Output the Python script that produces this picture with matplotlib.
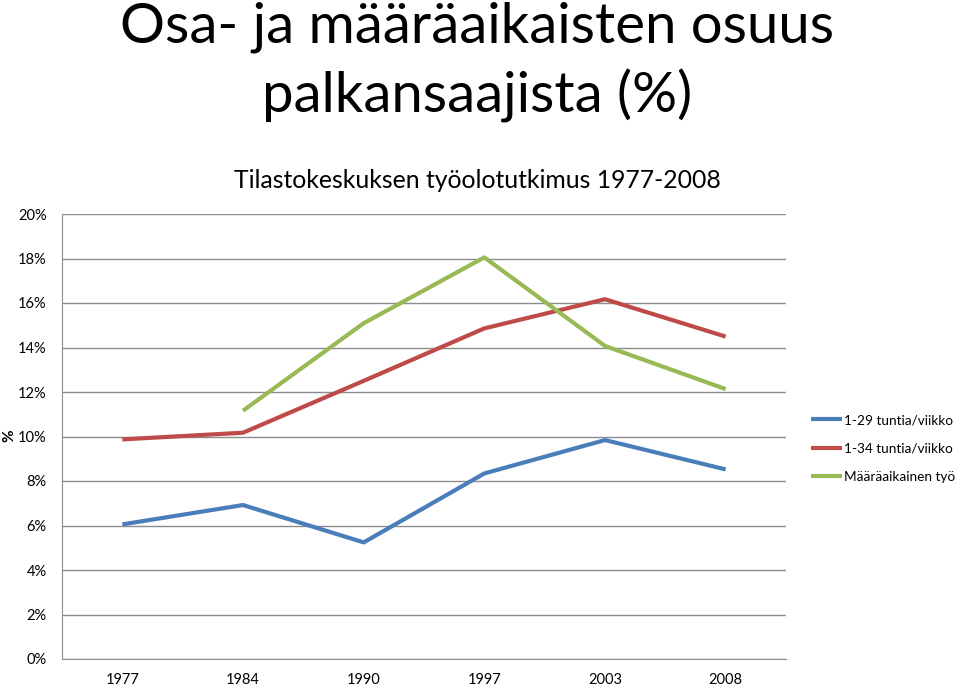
import matplotlib
matplotlib.use("Agg")
import matplotlib.pyplot as plt
import numpy as np

plt.rcParams['font.family'] = ['Lato', 'DejaVu Sans']

years = ["1977", "1984", "1990", "1997", "2003", "2008"]
osa_29 = [6.05, 6.92, 5.24, 8.34, 9.84, 8.52]
osa_34 = [9.87, 10.17, 12.5, 14.86, 16.17, 14.49]
maaraaik = [None, 11.16, 15.09, 18.05, 14.07, 12.13]
series_names = ["1-29 tuntia/viikko", "1-34 tuntia/viikko", "Määräaikainen työ"]
colors = ["#4a7ebb", "#be4b48", "#98b954"]
yticks = [0, 2, 4, 6, 8, 10, 12, 14, 16, 18, 20]

fig = plt.figure(figsize=(9.6, 6.85), dpi=100)
ax = fig.add_axes([62/960, 26/685, (786-62)/960, (659-214)/685])

x = np.arange(len(years))
for vals, name, c in zip([osa_29, osa_34, maaraaik], series_names, colors):
    v = np.array([np.nan if a is None else a for a in vals], dtype=float)
    ax.plot(x, v, color=c, lw=3, label=name, solid_capstyle='butt')

ax.set_xlim(-0.5, len(years) - 0.5)
ax.set_ylim(0, 20)
ax.set_yticks(yticks)
ax.set_yticklabels([f"{t}%" for t in yticks], fontsize=10.5)
ax.set_xticks(x)
ax.set_xticklabels(years, fontsize=10.5)
ax.tick_params(axis='y', length=0, pad=11)
ax.tick_params(axis='x', length=0, pad=10)
ax.grid(axis='y', color='#8c8c8c', lw=1)
ax.set_axisbelow(True)
for s in ['top', 'right']:
    ax.spines[s].set_visible(False)
for s in ['left', 'bottom']:
    ax.spines[s].set_color('#8c8c8c')

fig.text(9/960, 1 - 436/685, "%", rotation=90, ha='center', va='center', fontsize=11, fontweight='bold')

fig.text(0.497, 1 - 27/685, "Osa- ja määräaikaisten osuus", ha='center', va='center', fontsize=40.5)
fig.text(0.497, 1 - 96/685, "palkansaajista (%)", ha='center', va='center', fontsize=40.5)
fig.text(0.497, 1 - 180/685, "Tilastokeskuksen työolotutkimus 1977-2008", ha='center', va='center', fontsize=17.8)

fig.legend(loc='upper left', bbox_to_anchor=(807/960, 1 - 410/685), frameon=False,
           fontsize=9.8, handlelength=2.3, handletextpad=0.1, labelspacing=1.2,
           borderaxespad=0, borderpad=0.3)

fig.savefig("out.png", dpi=100)
